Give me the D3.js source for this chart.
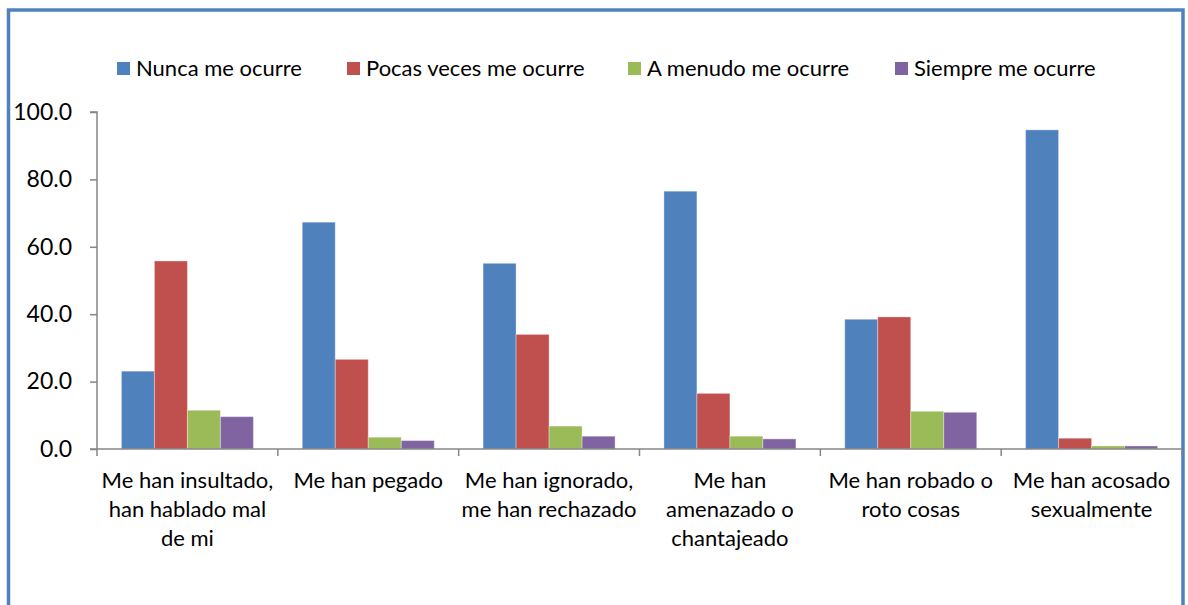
<!DOCTYPE html>
<html><head><meta charset="utf-8">
<script src="https://cdn.jsdelivr.net/npm/d3@7"></script>
<style>body{margin:0;background:#fff}svg{display:block}text{font-family:Lato,"Open Sans",sans-serif;fill:#000}</style>
</head><body><svg id="c" width="1188" height="605"></svg>
<script>
const categories = [
  ["Me han insultado,","han hablado mal","de mi"],
  ["Me han pegado"],
  ["Me han ignorado,","me han rechazado"],
  ["Me han","amenazado o","chantajeado"],
  ["Me han robado o","roto cosas"],
  ["Me han acosado","sexualmente"]
];
const seriesNames = ["Nunca me ocurre","Pocas veces me ocurre","A menudo me ocurre","Siempre me ocurre"];
const nunca   = [23.1, 67.3, 55.1, 76.5, 38.5, 94.7];
const pocas   = [55.8, 26.6, 34.0, 16.5, 39.2, 3.2];
const menudo  = [11.5, 3.5, 6.8, 3.8, 11.2, 0.9];
const siempre = [9.6, 2.5, 3.8, 3.0, 10.9, 0.9];
const yTicks = [0, 20, 40, 60, 80, 100];
const colors = ["#4f81bd","#c0504d","#9bbb59","#8064a2"];

(function(){
const series = [nunca, pocas, menudo, siempre];
const svg = d3.select("#c");
svg.append("rect").attr("x",8.5).attr("y",10).attr("width",1174.5).attr("height",700)
  .attr("fill","none").attr("stroke","#4f81bd").attr("stroke-width",3.5);

const pl = 97, pr = 1182, pt = 112, pb = 449;
const x0 = d3.scaleBand().domain(d3.range(categories.length)).range([pl,pr]).paddingInner(0.27).paddingOuter(0.135);
const x1 = d3.scaleBand().domain(d3.range(series.length)).range([0,x0.bandwidth()]);
const y = d3.scaleLinear().domain([0,100]).range([pb,pt]);
const step = x0.step();

series.forEach((vals,si)=>{
  svg.append("g").selectAll("rect").data(vals).join("rect")
    .attr("x",(d,i)=>x0(i)+x1(si)).attr("width",x1.bandwidth())
    .attr("y",d=>y(d)).attr("height",d=>y(0)-y(d))
    .attr("fill",colors[si]).attr("stroke","rgba(255,255,255,0.35)").attr("stroke-width",1);
});

const ya = svg.append("g").attr("transform",`translate(${pl},0)`)
  .call(d3.axisLeft(y).tickValues(yTicks).tickFormat(d3.format(".1f")).tickSize(7).tickPadding(18));
ya.select(".domain").attr("stroke","#868686").attr("stroke-width",1.5).attr("d",`M-7,${pt}H0V${pb}`);
ya.selectAll(".tick line").attr("stroke","#868686").attr("stroke-width",1.5);
ya.selectAll(".tick text").attr("font-size",23).attr("font-family","Lato,sans-serif").attr("fill","#000");

const xa = svg.append("g").attr("transform",`translate(0,${pb})`);
xa.append("line").attr("x1",pl-7).attr("x2",pr).attr("y1",0).attr("y2",0).attr("stroke","#868686").attr("stroke-width",1.5);
const tickPos = d3.range(categories.length+1).map(i=>pl+i*step);
xa.selectAll(".xt").data(tickPos).join("line").attr("x1",d=>d).attr("x2",d=>d).attr("y1",0).attr("y2",7)
  .attr("stroke","#868686").attr("stroke-width",1.5);
categories.forEach((lines,i)=>{
  const cx = x0(i)+x0.bandwidth()/2;
  const t = svg.append("text").attr("text-anchor","middle").attr("font-size",22).attr("x",cx).attr("y",pb+39);
  lines.forEach((l,j)=>t.append("tspan").attr("x",cx).attr("dy",j?29:0).text(l));
});

const legX = [117, 347, 628, 895];
seriesNames.forEach((n,i)=>{
  svg.append("rect").attr("x",legX[i]).attr("y",62).attr("width",13).attr("height",13).attr("fill",colors[i]);
  svg.append("text").attr("x",legX[i]+19).attr("y",76).attr("font-size",22).text(n);
});
})();
</script></body></html>
